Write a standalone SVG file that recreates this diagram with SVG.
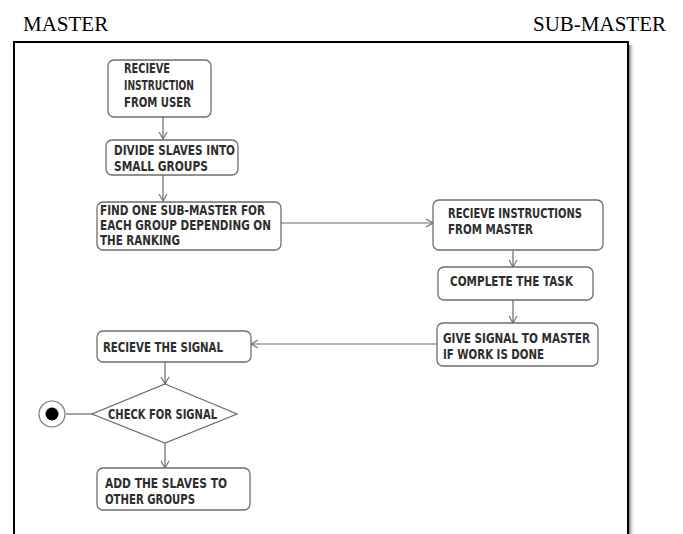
<svg xmlns="http://www.w3.org/2000/svg" width="683" height="534" viewBox="0 0 683 534">
<style>
.lane{font-family:"Liberation Serif","Times New Roman",serif;font-size:21px;fill:#000}
.box{fill:#fff;stroke:#6e6e6e;stroke-width:1.3}
.t{font-family:"DejaVu Sans Condensed","DejaVu Sans","Liberation Sans",sans-serif;font-weight:bold;font-stretch:condensed;font-size:13.5px;fill:#2e2e2e}
.c{fill:none;stroke:#6a6a6a;stroke-width:1.2}
</style>
<defs>
<marker id="ah" markerWidth="10" markerHeight="10" refX="8" refY="5" orient="auto" markerUnits="userSpaceOnUse">
<path d="M1,1 L8,5 L1,9" fill="none" stroke="#6a6a6a" stroke-width="1.1"/>
</marker>
<linearGradient id="sh" x1="0" y1="0" x2="1" y2="0">
<stop offset="0" stop-color="#7a7a7a"/>
<stop offset="1" stop-color="#ffffff" stop-opacity="0"/>
</linearGradient>
</defs>
<rect width="683" height="534" fill="#fff"/>
<text class="lane" x="23" y="31">MASTER</text>
<text class="lane" x="533" y="31">SUB-MASTER</text>
<rect x="629" y="45" width="6" height="489" fill="url(#sh)"/>
<path d="M14,534 L14,42 L628,42 L628,534" fill="none" stroke="#000" stroke-width="2"/>
<g id="connectors">
<line class="c" x1="163" y1="117" x2="163" y2="139" marker-end="url(#ah)"/>
<line class="c" x1="163" y1="175" x2="163" y2="201" marker-end="url(#ah)"/>
<line class="c" x1="281" y1="223" x2="433" y2="223" marker-end="url(#ah)"/>
<line class="c" x1="513" y1="251" x2="513" y2="267" marker-end="url(#ah)"/>
<line class="c" x1="513" y1="300" x2="513" y2="323" marker-end="url(#ah)"/>
<line class="c" x1="437" y1="344" x2="251" y2="344" marker-end="url(#ah)"/>
<line class="c" x1="165" y1="362" x2="165" y2="384" marker-end="url(#ah)"/>
<line class="c" x1="66" y1="414" x2="92" y2="414"/>
<line class="c" x1="165" y1="443" x2="165" y2="468" marker-end="url(#ah)"/>
</g>
<g id="n1">
<rect class="box" x="108" y="60" width="103" height="57" rx="6"/>
<text class="t" x="124" y="73" textLength="46" lengthAdjust="spacingAndGlyphs">RECIEVE</text>
<text class="t" x="124" y="90" textLength="70" lengthAdjust="spacingAndGlyphs">INSTRUCTION</text>
<text class="t" x="124" y="107" textLength="67" lengthAdjust="spacingAndGlyphs">FROM USER</text>
</g>
<g id="n2">
<rect class="box" x="106" y="140" width="132" height="35" rx="6"/>
<text class="t" x="114" y="155" textLength="121" lengthAdjust="spacingAndGlyphs">DIVIDE SLAVES INTO</text>
<text class="t" x="114" y="171" textLength="94" lengthAdjust="spacingAndGlyphs">SMALL GROUPS</text>
</g>
<g id="n3">
<rect class="box" x="97" y="202" width="184" height="48" rx="6"/>
<text class="t" x="100" y="215" textLength="165" lengthAdjust="spacingAndGlyphs">FIND ONE SUB-MASTER FOR</text>
<text class="t" x="100" y="230" textLength="171" lengthAdjust="spacingAndGlyphs">EACH GROUP DEPENDING ON</text>
<text class="t" x="100" y="245" textLength="80" lengthAdjust="spacingAndGlyphs">THE RANKING</text>
</g>
<g id="n4">
<rect class="box" x="433" y="200" width="170" height="50" rx="6"/>
<text class="t" x="448" y="218" textLength="134" lengthAdjust="spacingAndGlyphs">RECIEVE INSTRUCTIONS</text>
<text class="t" x="448" y="234" textLength="85" lengthAdjust="spacingAndGlyphs">FROM MASTER</text>
</g>
<g id="n5">
<rect class="box" x="438" y="267" width="155" height="33" rx="6"/>
<text class="t" x="450" y="286" textLength="123" lengthAdjust="spacingAndGlyphs">COMPLETE THE TASK</text>
</g>
<g id="n6">
<rect class="box" x="437" y="323" width="161" height="43" rx="6"/>
<text class="t" x="443" y="343" textLength="147" lengthAdjust="spacingAndGlyphs">GIVE SIGNAL TO MASTER</text>
<text class="t" x="443" y="359" textLength="101" lengthAdjust="spacingAndGlyphs">IF WORK IS DONE</text>
</g>
<g id="n7">
<rect class="box" x="97" y="331" width="154" height="31" rx="6"/>
<text class="t" x="103" y="352" textLength="120" lengthAdjust="spacingAndGlyphs">RECIEVE THE SIGNAL</text>
</g>
<g id="n8">
<polygon class="box" points="165,384 237,414 165,443 92,414"/>
<text class="t" x="108" y="419" textLength="109" lengthAdjust="spacingAndGlyphs">CHECK FOR SIGNAL</text>
</g>
<g id="n9">
<circle cx="52" cy="414" r="13" fill="#fff" stroke="#777" stroke-width="1.2"/>
<circle cx="52" cy="414" r="6.5" fill="#000"/>
</g>
<g id="n10">
<rect class="box" x="97" y="468" width="153" height="42" rx="6"/>
<text class="t" x="105" y="488" textLength="122" lengthAdjust="spacingAndGlyphs">ADD THE SLAVES TO</text>
<text class="t" x="105" y="504" textLength="90" lengthAdjust="spacingAndGlyphs">OTHER GROUPS</text>
</g>
</svg>
